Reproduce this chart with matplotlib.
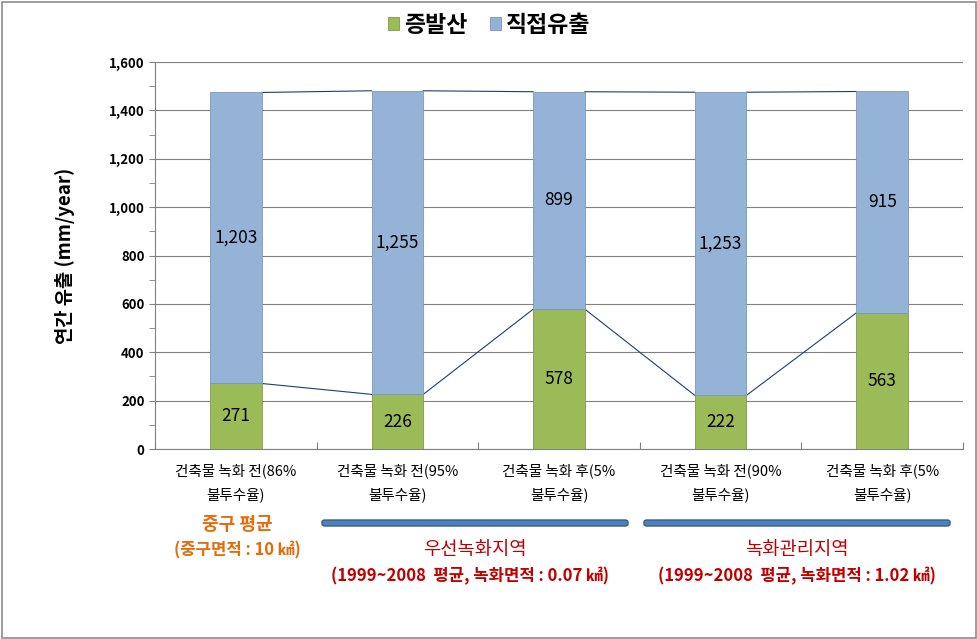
import numpy as np
import matplotlib
matplotlib.use('Agg')
import matplotlib.pyplot as plt
from matplotlib.patches import FancyBboxPatch, Rectangle

plt.rcParams['font.family'] = ['Noto Sans CJK KR', 'DejaVu Sans']

categories = ['건축물 녹화 전(86%\n불투수율)', '건축물 녹화 전(95%\n불투수율)', '건축물 녹화 후(5%\n불투수율)',
              '건축물 녹화 전(90%\n불투수율)', '건축물 녹화 후(5%\n불투수율)']
evap = [271, 226, 578, 222, 563]
runoff = [1203, 1255, 899, 1253, 915]
yticks = [0, 200, 400, 600, 800, 1000, 1200, 1400, 1600]

GREEN = '#9BBB59'
BLUE = '#95B3D7'
LINE = '#1F3F6E'
RED = '#C00000'
ORANGE = '#E46C0A'

fig = plt.figure(figsize=(9.78, 6.39), dpi=100)
fig.patches.append(Rectangle((0.002, 0.002), 0.996, 0.995, transform=fig.transFigure,
                             fill=False, edgecolor='#8C8C8C', linewidth=1.2))
ax = fig.add_axes([0.1585, 0.2973, 0.8262, 0.6057])

x = np.arange(len(categories))
w = 0.32
ax.bar(x, evap, w, color=GREEN, edgecolor='#7F9A48', linewidth=0.6, label='증발산', zorder=3)
ax.bar(x, runoff, w, bottom=evap, color=BLUE, edgecolor='#7A97BE', linewidth=0.6, label='직접유출', zorder=3)

total = [e + r for e, r in zip(evap, runoff)]
for i in range(len(x) - 1):
    ax.plot([x[i] + w / 2, x[i + 1] - w / 2], [evap[i], evap[i + 1]], color=LINE, lw=0.8, zorder=2)
    ax.plot([x[i] + w / 2, x[i + 1] - w / 2], [total[i], total[i + 1]], color=LINE, lw=0.8, zorder=2)

for i in x:
    ax.text(i, evap[i] / 2, f'{evap[i]:,}', ha='center', va='center', fontsize=12.5, zorder=4)
    ax.text(i, evap[i] + runoff[i] / 2, f'{runoff[i]:,}', ha='center', va='center', fontsize=12.5, zorder=4)

ax.set_xlim(-0.5, len(x) - 0.5)
ax.set_ylim(0, 1600)
ax.set_yticks(yticks)
ax.set_yticklabels([f'{v:,}' for v in yticks], fontsize=9.5, fontweight='bold')
ax.set_yticks(np.arange(100, 1600, 200), minor=True)
ax.tick_params(axis='y', which='both', direction='out', length=4, color='#808080')
ax.set_xticks(np.arange(-0.5, len(x), 1.0))
ax.set_xticklabels([])
ax.tick_params(axis='x', direction='in', length=5, color='#808080')
ax.grid(axis='y', color='#808080', lw=0.8, zorder=0)
for s in ['top', 'right']:
    ax.spines[s].set_visible(False)
for s in ['left', 'bottom']:
    ax.spines[s].set_color('#808080')
ax.set_ylabel('연간 유출 (mm/year)', fontsize=13.5, fontweight='bold', labelpad=24)

for i, c in enumerate(categories):
    ax.text(i, -58, c, ha='center', va='top', fontsize=10.5, linespacing=1.8,
            transform=ax.transData)

def figtext(px, py, s, **kw):
    fig.text(px / 978, 1 - py / 639, s, ha='center', va='center', **kw)

figtext(237, 525, '중구 평균', color=ORANGE, fontsize=13, fontweight='bold')
figtext(237, 550, '(중구면적 : 10 ㎢)', color=ORANGE, fontsize=12, fontweight='bold')
figtext(475, 550, '우선녹화지역', color=RED, fontsize=13.5)
figtext(470, 576, '(1999~2008  평균, 녹화면적 : 0.07 ㎢)', color=RED, fontsize=12, fontweight='bold')
figtext(797, 550, '녹화관리지역', color=RED, fontsize=13.5)
figtext(797, 576, '(1999~2008  평균, 녹화면적 : 1.02 ㎢)', color=RED, fontsize=12, fontweight='bold')

for x0, x1 in [(322, 628), (644, 950)]:
    fig.patches.append(FancyBboxPatch((x0 / 978, 1 - 526 / 639), (x1 - x0) / 978, 6 / 639,
                                      boxstyle='round,pad=0,rounding_size=0.003',
                                      transform=fig.transFigure, facecolor='#4F81BD',
                                      edgecolor='#385D8A', linewidth=1))

fig.legend(loc='center', bbox_to_anchor=(0.5, 1 - 25 / 639), ncol=2, frameon=False,
           prop={'size': 16.5, 'weight': 'bold'}, handlelength=0.5, handleheight=0.5,
           handletextpad=0.2, columnspacing=1.0)

plt.savefig('out.png', dpi=100)
